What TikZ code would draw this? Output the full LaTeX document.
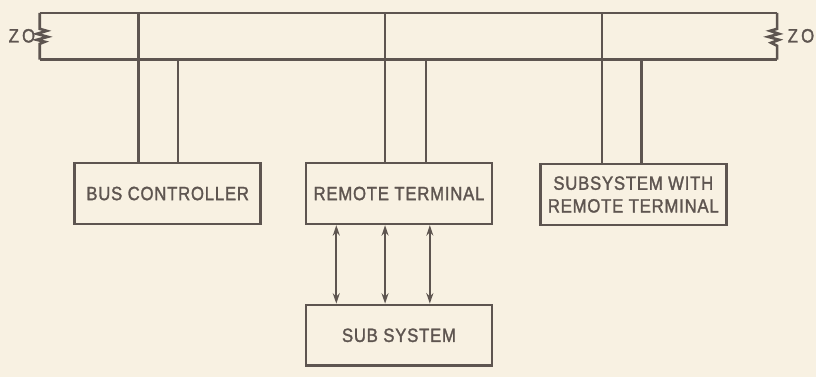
\documentclass[tikz,border=0pt]{standalone}
\usepackage{fontspec}
\setmainfont{Liberation Sans}
\newfontfamily\stencil[FakeStretch=0.87,FakeBold=1.5,LetterSpace=4]{Liberation Sans}
\usetikzlibrary{calc,arrows.meta}
\definecolor{ink}{HTML}{5E5550}
\definecolor{paper}{HTML}{F8F1E2}
\begin{document}
\begin{tikzpicture}[x=0.02cm,y=-0.02cm,color=ink,line width=1.5pt,
	font=\stencil\fontsize{11}{13}\selectfont,
	box/.style={draw,minimum width=3.74cm,minimum height=1.22cm,align=center,inner sep=0pt},
	link/.style={{Stealth[length=6pt,width=4pt]}-{Stealth[length=6pt,width=4pt]},line width=1.3pt}]
	\fill[paper] (0,0) rectangle (820,379);
	% bus
	\coordinate (tl) at (40,13);
	\coordinate (tr) at (781,13);
	\coordinate (bl) at (40,60);
	\coordinate (br) at (781,60);
	\draw (bl)--(br) (tl)--(tr);
	% terminations
	\draw (tl)--(40,29)--(47,31)--(37,34)--(48,37)--(37,40)--(45,42)--(40,44)--(bl);
	\draw (tr)--(781,29)--(774,31)--(783,34)--(772,37)--(783,40)--(775,43)--(781,46)--(br);
	\node (zl) at (22,36) {Z\,O};
	\node (zr) at (805,36) {Z\,O};
	% units
	\node[box] (bc) at (168.5,194.5) {BUS CONTROLLER};
	\node[box] (rt) at (401,194.5) {REMOTE TERMINAL};
	\node[box] (srt) at (636.5,195.5) {SUBSYSTEM WITH\\REMOTE TERMINAL};
	\node[box] (ss) at (401,337) {SUB SYSTEM};
	% stubs
	\coordinate (bca) at (139,13);
	\coordinate (bcb) at (179,60);
	\coordinate (rta) at (387,13);
	\coordinate (rtb) at (428,60);
	\coordinate (srta) at (605,13);
	\coordinate (srtb) at (645,60);
	\draw (bca)--(bca |- bc.north)  (bcb)--(bcb |- bc.north);
	\draw (rta)--(rta |- rt.north)  (rtb)--(rtb |- rt.north);
	\draw (srta)--(srta |- srt.north)  (srtb)--(srtb |- srt.north);
	% rt to subsystem
	\draw[link] ($(rt.south)+(-63,0)$)--($(ss.north)+(-63,0)$);
	\draw[link] ($(rt.south)+(-14,0)$)--($(ss.north)+(-14,0)$);
	\draw[link] ($(rt.south)+(31,0)$)--($(ss.north)+(31,0)$);
\end{tikzpicture}
\end{document}
